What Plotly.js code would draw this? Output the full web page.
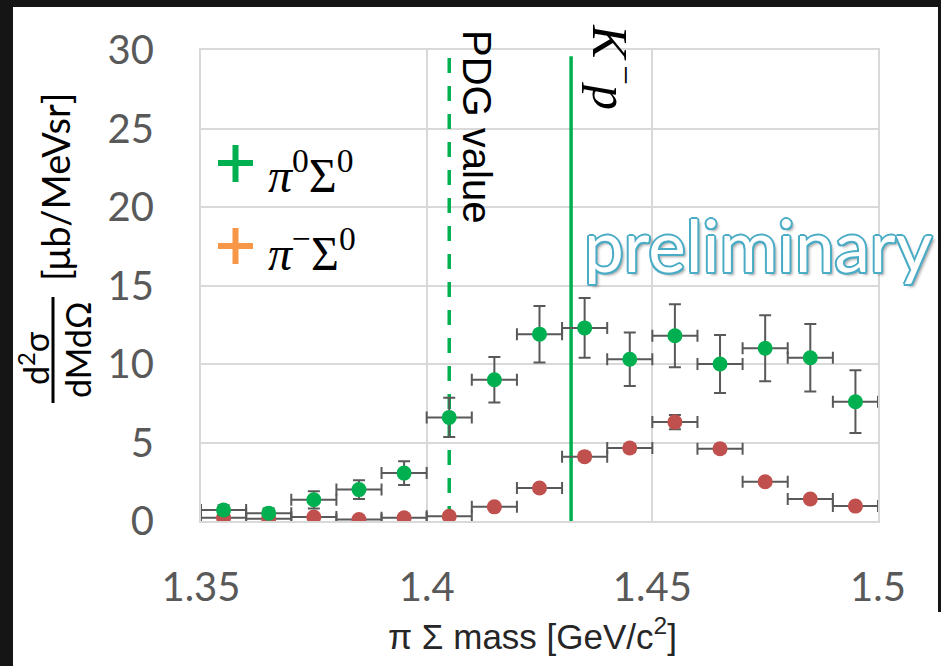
<!DOCTYPE html>
<html>
<head>
<meta charset="utf-8">
<script src="https://cdn.plot.ly/plotly-3.0.1.min.js"></script>
<style>
  html, body { margin: 0; padding: 0; background: #151515; width: 941px; height: 666px; overflow: hidden; }
  #chart { position: absolute; left: 13px; top: 7px; width: 925px; height: 659px; overflow: hidden; background: #fff; }
  #corner { position: absolute; left: 938px; top: 612px; width: 3px; height: 54px; background: #fff; }
</style>
</head>
<body>
<div id="chart"></div>
<div id="corner"></div>
<script>
// ---- data ----
const massBins = [1.355, 1.365, 1.375, 1.385, 1.395, 1.405, 1.415, 1.425, 1.435, 1.445, 1.455, 1.465, 1.475, 1.485, 1.495];
const binHalfWidth = 0.005;
const pi0Sigma0 = [0.7, 0.5, 1.35, 2.0, 3.05, 6.6, 9.0, 11.9, 12.3, 10.3, 11.8, 10.0, 11.0, 10.4, 7.6];
const pi0Sigma0Err = [0.3, 0.3, 0.55, 0.6, 0.75, 1.25, 1.45, 1.8, 1.9, 1.7, 2.0, 1.85, 2.1, 2.15, 2.0];
const piMinusSigma0 = [0.2, 0.15, 0.25, 0.1, 0.2, 0.3, 0.9, 2.1, 4.1, 4.65, 6.3, 4.6, 2.5, 1.4, 0.95];
const piMinusSigma0Err = [0.1, 0.1, 0.1, 0.1, 0.1, 0.1, 0.15, 0.2, 0.25, 0.25, 0.45, 0.25, 0.2, 0.15, 0.15];
const pdgMass = 1.405;
const kpThreshold = 1.432;
const lineTop = [29.75, 29.6];
const xTickVals = [1.35, 1.4, 1.45, 1.5];
const xTickText = ['1.35', '1.4', '1.45', '1.5'];
const yTickVals = [0, 5, 10, 15, 20, 25, 30];

// ---- layout helpers (page pixel -> paper fraction) ----
const PX0 = 201, PX1 = 878, PY0 = 521, PY1 = 50;
const px = X => (X - PX0) / (PX1 - PX0);
const py = Y => (PY0 - Y) / (PY0 - PY1);

const GREEN = '#00B050', RED = '#C0504D', ORANGE = '#F79646', ERR = '#595959';

const errStyle = { color: ERR, thickness: 2, width: 6 };

const traces = [
  { x: [pdgMass, pdgMass], y: [0, lineTop[0]], mode: 'lines', type: 'scatter',
    line: { color: GREEN, width: 3.5, dash: '15px,13px' }, hoverinfo: 'skip' },
  { x: [kpThreshold, kpThreshold], y: [0, lineTop[1]], mode: 'lines', type: 'scatter',
    line: { color: GREEN, width: 3.5 }, hoverinfo: 'skip' },
  { x: massBins, y: piMinusSigma0, mode: 'markers', type: 'scatter', name: 'π⁻Σ⁰',
    marker: { color: RED, size: 15 },
    error_x: Object.assign({ type: 'constant', value: binHalfWidth }, errStyle),
    error_y: Object.assign({ type: 'data', array: piMinusSigma0Err, visible: true }, errStyle) },
  { x: massBins, y: pi0Sigma0, mode: 'markers', type: 'scatter', name: 'π⁰Σ⁰',
    marker: { color: GREEN, size: 15 },
    error_x: Object.assign({ type: 'constant', value: binHalfWidth }, errStyle),
    error_y: Object.assign({ type: 'data', array: pi0Sigma0Err, visible: true }, errStyle) }
];

const tickFont = { family: 'Lato, "Open Sans", sans-serif', size: 40, color: '#595959' };

const outline = '#4BACC6';
const shadowCss = [
  '2px 0 0 ' + outline, '-2px 0 0 ' + outline, '0 2px 0 ' + outline, '0 -2px 0 ' + outline,
  '1.5px 1.5px 0 ' + outline, '-1.5px -1.5px 0 ' + outline, '1.5px -1.5px 0 ' + outline, '-1.5px 1.5px 0 ' + outline,
  '3px 3px 3px rgba(0,0,0,0.35)'
].join(', ');

const annotations = [
  // x-axis title
  { xref: 'paper', yref: 'paper', x: px(532), y: py(634), xanchor: 'center', yanchor: 'middle', showarrow: false,
    text: 'π Σ mass [GeV/c<sup>2</sup>]', font: { family: '"Liberation Sans", Arial, sans-serif', size: 35, color: '#262626' } },
  // y-axis title pieces
  { xref: 'paper', yref: 'paper', x: px(55), y: py(187), xanchor: 'center', yanchor: 'middle', showarrow: false, textangle: -90,
    text: '[μb/MeVsr]', font: { family: 'Lato, sans-serif', size: 38, color: '#000' } },
  { xref: 'paper', yref: 'paper', x: px(34), y: py(358), xanchor: 'center', yanchor: 'middle', showarrow: false, textangle: -90,
    text: 'd<sup>2</sup>σ', font: { family: 'Lato, sans-serif', size: 34, color: '#000' } },
  { xref: 'paper', yref: 'paper', x: px(77), y: py(350), xanchor: 'center', yanchor: 'middle', showarrow: false, textangle: -90,
    text: 'dMdΩ', font: { family: 'Lato, sans-serif', size: 34, color: '#000' } },
  // vertical line labels
  { xref: 'paper', yref: 'paper', x: px(477), y: py(126), xanchor: 'center', yanchor: 'middle', showarrow: false, textangle: 90,
    text: 'PDG value', font: { family: '"Liberation Sans", Arial, sans-serif', size: 40, color: '#000' } },
  { xref: 'paper', yref: 'paper', x: px(614), y: py(67), xanchor: 'center', yanchor: 'middle', showarrow: false, textangle: 90,
    text: '<i>K</i><sup>\u2009−</sup><i>p</i>', font: { family: '"Liberation Serif", "DejaVu Serif", serif', size: 50, color: '#000' } },
  // legend texts
  { xref: 'paper', yref: 'paper', x: px(266), y: py(172), xanchor: 'left', yanchor: 'middle', showarrow: false,
    text: '<i>π</i><sup>0</sup>Σ<sup>0</sup>', font: { family: '"Liberation Serif", "DejaVu Serif", serif', size: 48, color: '#000' } },
  { xref: 'paper', yref: 'paper', x: px(266), y: py(250), xanchor: 'left', yanchor: 'middle', showarrow: false,
    text: '<i>π</i><sup>−</sup>Σ<sup>0</sup>', font: { family: '"Liberation Serif", "DejaVu Serif", serif', size: 48, color: '#000' } },
  // preliminary stamp
  { xref: 'paper', yref: 'paper', x: px(582), y: py(244), xanchor: 'left', yanchor: 'middle', showarrow: false,
    text: 'preliminary', font: { family: 'Lato, "Open Sans", sans-serif', size: 71, color: '#ffffff', shadow: shadowCss } }
];

const shapes = [
  // fraction bar of the y title
  { type: 'line', xref: 'paper', yref: 'paper', x0: px(53), x1: px(53), y0: py(297), y1: py(403), line: { color: '#000', width: 3 } },
  // legend plus signs
  { type: 'line', xref: 'paper', yref: 'paper', x0: px(218), x1: px(253), y0: py(163), y1: py(163), line: { color: GREEN, width: 6 } },
  { type: 'line', xref: 'paper', yref: 'paper', x0: px(235.5), x1: px(235.5), y0: py(145), y1: py(182), line: { color: GREEN, width: 6 } },
  { type: 'line', xref: 'paper', yref: 'paper', x0: px(218), x1: px(253), y0: py(246), y1: py(246), line: { color: ORANGE, width: 6 } },
  { type: 'line', xref: 'paper', yref: 'paper', x0: px(235.5), x1: px(235.5), y0: py(228), y1: py(264), line: { color: ORANGE, width: 6 } }
];

const layout = {
  width: 925, height: 659,
  margin: { l: 188, r: 60, t: 43, b: 145, pad: 0 },
  paper_bgcolor: '#ffffff', plot_bgcolor: '#ffffff',
  showlegend: false, hovermode: false,
  xaxis: {
    range: [1.35, 1.5], tickmode: 'array', tickvals: xTickVals, ticktext: xTickText,
    showgrid: true, gridcolor: '#D9D9D9', gridwidth: 2, zeroline: false,
    showline: true, linecolor: '#D9D9D9', linewidth: 2, mirror: true,
    ticks: '', tickfont: tickFont, ticklabelstandoff: 30
  },
  yaxis: {
    range: [0, 30], tickmode: 'array', tickvals: yTickVals,
    showgrid: true, gridcolor: '#D9D9D9', gridwidth: 2, zeroline: false,
    showline: true, linecolor: '#D9D9D9', linewidth: 2, mirror: true,
    ticks: '', tickfont: tickFont, ticklabelstandoff: 37
  },
  annotations: annotations,
  shapes: shapes
};

Plotly.newPlot('chart', traces, layout, { displayModeBar: false, staticPlot: true });
</script>
</body>
</html>
